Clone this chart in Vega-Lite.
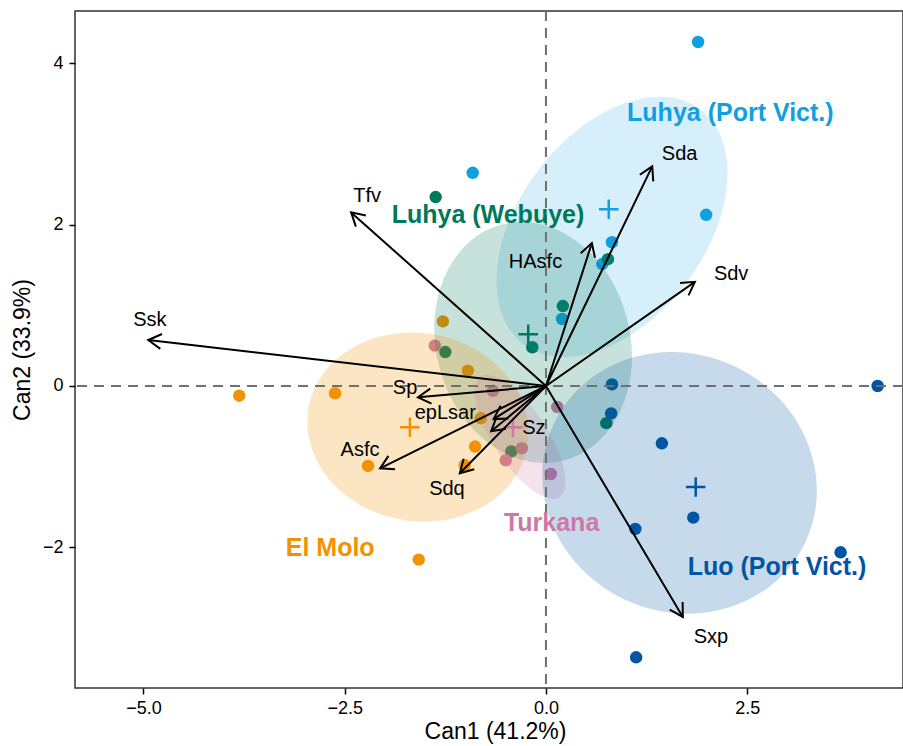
{
  "$schema": "https://vega.github.io/schema/vega-lite/v6.json",
  "width": 828,
  "height": 677,
  "autosize": {"type": "none"},
  "padding": {"left": 75, "top": 11, "right": 0, "bottom": 58},
  "background": "white",
  "datasets": {
    "points": [
      {"g": "Luhya (Port Vict.)", "x": 1.89, "y": 4.26},
      {"g": "Luhya (Port Vict.)", "x": -0.91, "y": 2.64},
      {"g": "Luhya (Port Vict.)", "x": 1.99, "y": 2.12},
      {"g": "Luhya (Port Vict.)", "x": 0.82, "y": 1.78},
      {"g": "Luhya (Port Vict.)", "x": 0.70, "y": 1.51},
      {"g": "Luhya (Port Vict.)", "x": 0.20, "y": 0.83},
      {"g": "Luhya (Webuye)", "x": -1.37, "y": 2.34},
      {"g": "Luhya (Webuye)", "x": 0.77, "y": 1.57},
      {"g": "Luhya (Webuye)", "x": 0.21, "y": 0.99},
      {"g": "Luhya (Webuye)", "x": -0.17, "y": 0.48},
      {"g": "Luhya (Webuye)", "x": -1.25, "y": 0.42},
      {"g": "Luhya (Webuye)", "x": 0.75, "y": -0.46},
      {"g": "Luhya (Webuye)", "x": -0.43, "y": -0.81},
      {"g": "El Molo", "x": -3.81, "y": -0.12},
      {"g": "El Molo", "x": -2.62, "y": -0.09},
      {"g": "El Molo", "x": -2.21, "y": -0.99},
      {"g": "El Molo", "x": -0.88, "y": -0.75},
      {"g": "El Molo", "x": -1.28, "y": 0.80},
      {"g": "El Molo", "x": -0.97, "y": 0.19},
      {"g": "El Molo", "x": -0.81, "y": -0.40},
      {"g": "El Molo", "x": -1.01, "y": -0.98},
      {"g": "El Molo", "x": -1.58, "y": -2.15},
      {"g": "Turkana", "x": -1.38, "y": 0.50},
      {"g": "Turkana", "x": -0.66, "y": -0.06},
      {"g": "Turkana", "x": 0.14, "y": -0.26},
      {"g": "Turkana", "x": -0.30, "y": -0.77},
      {"g": "Turkana", "x": -0.50, "y": -0.92},
      {"g": "Turkana", "x": 0.06, "y": -1.09},
      {"g": "Luo (Port Vict.)", "x": 4.12, "y": 0.0},
      {"g": "Luo (Port Vict.)", "x": 0.82, "y": 0.02},
      {"g": "Luo (Port Vict.)", "x": 0.81, "y": -0.34},
      {"g": "Luo (Port Vict.)", "x": 1.44, "y": -0.71},
      {"g": "Luo (Port Vict.)", "x": 1.83, "y": -1.63},
      {"g": "Luo (Port Vict.)", "x": 1.11, "y": -1.77},
      {"g": "Luo (Port Vict.)", "x": 3.66, "y": -2.06},
      {"g": "Luo (Port Vict.)", "x": 1.12, "y": -3.36}
    ],
    "means": [
      {"g": "Luhya (Port Vict.)", "x": 0.78, "y": 2.19},
      {"g": "Luhya (Webuye)", "x": -0.22, "y": 0.64},
      {"g": "El Molo", "x": -1.69, "y": -0.51},
      {"g": "Turkana", "x": -0.41, "y": -0.51},
      {"g": "Luo (Port Vict.)", "x": 1.86, "y": -1.25}
    ],
    "ellipses": [
      {"g": "Luhya (Port Vict.)", "x": 0.82, "y": 1.97},
      {"g": "Luhya (Webuye)", "x": -0.16, "y": 0.54},
      {"g": "El Molo", "x": -1.59, "y": -0.51},
      {"g": "Turkana", "x": -0.32, "y": -0.63},
      {"g": "Luo (Port Vict.)", "x": 1.66, "y": -1.20}
    ],
    "vectors": [
      {"v": "Ssk", "x": -4.94, "y": 0.57, "lx": -4.92, "ly": 0.82},
      {"v": "Tfv", "x": -2.42, "y": 2.15, "lx": -2.22, "ly": 2.35},
      {"v": "Sda", "x": 1.32, "y": 2.72, "lx": 1.66, "ly": 2.87},
      {"v": "HAsfc", "x": 0.57, "y": 1.77, "lx": -0.13, "ly": 1.54},
      {"v": "Sdv", "x": 1.85, "y": 1.29, "lx": 2.30, "ly": 1.39},
      {"v": "Sxp", "x": 1.70, "y": -2.86, "lx": 2.05, "ly": -3.11},
      {"v": "Sp", "x": -1.59, "y": -0.14, "lx": -1.75, "ly": -0.02},
      {"v": "epLsar", "x": -0.65, "y": -0.41, "lx": -1.25, "ly": -0.33},
      {"v": "Sz", "x": -0.68, "y": -0.56, "lx": -0.15, "ly": -0.52},
      {"v": "Asfc", "x": -2.06, "y": -1.02, "lx": -2.31, "ly": -0.79},
      {"v": "Sdq", "x": -1.07, "y": -1.08, "lx": -1.23, "ly": -1.28}
    ],
    "labels": [
      {"g": "Luhya (Port Vict.)", "x": 2.29, "y": 3.38},
      {"g": "Luhya (Webuye)", "x": -0.72, "y": 2.12},
      {"g": "El Molo", "x": -2.68, "y": -2.01},
      {"g": "Turkana", "x": 0.07, "y": -1.70},
      {"g": "Luo (Port Vict.)", "x": 2.87, "y": -2.24}
    ],
    "origin": [{"x": 0, "y": 0}]
  },
  "config": {
    "font": "Liberation Sans",
    "view": {"stroke": "#333333", "strokeWidth": 1.5},
    "axis": {
      "grid": false, "domain": false, "ticks": true, "tickColor": "#000000", "tickWidth": 1.5, "tickSize": 6,
      "labelColor": "#000000", "labelFontSize": 18, "labelFont": "Liberation Sans",
      "titleFont": "Liberation Sans", "titleFontSize": 23, "titleFontWeight": "normal", "titleColor": "#000000"
    }
  },
  "layer": [
    {
      "data": {"name": "points"},
      "mark": {"type": "point", "shape": "circle", "filled": true, "size": 155, "opacity": 1, "strokeWidth": 0},
      "encoding": {
        "x": {"field": "x", "type": "quantitative", "title": "Can1 (41.2%)", "scale": {"domain": [-5.85, 4.435], "nice": false, "zero": false}, "axis": {"values": [-5, -2.5, 0, 2.5], "format": ".1f", "labelPadding": 5, "titlePadding": 3, "titleX": 420}},
        "y": {"field": "y", "type": "quantitative", "title": "Can2 (33.9%)", "scale": {"domain": [-3.74, 4.644], "nice": false, "zero": false}, "axis": {"values": [-2, 0, 2, 4], "format": "d", "labelPadding": 6, "titlePadding": 8}},
        "color": {"field": "g", "type": "nominal", "legend": null, "scale": {"domain": ["Luhya (Port Vict.)", "Luhya (Webuye)", "El Molo", "Turkana", "Luo (Port Vict.)"], "range": ["#10A0E0", "#00785A", "#F39200", "#CC79A7", "#0056A4"]}}
      }
    },
    {
      "data": {"name": "ellipses"},
      "transform": [{"filter": "datum.g == 'Luhya (Port Vict.)'"}],
      "mark": {"type": "point", "shape": "M -1 0 C -1 -0.3494 -0.5523 -0.633 0 -0.633 C 0.5523 -0.633 1 -0.3494 1 0 C 1 0.3494 0.5523 0.633 0 0.633 C -0.5523 0.633 -1 0.3494 -1 0 Z", "size": 86436, "angle": 307, "filled": true, "opacity": 0.17, "strokeWidth": 0},
      "encoding": {
        "x": {"field": "x", "type": "quantitative", "title": "Can1 (41.2%)", "scale": {"domain": [-5.85, 4.435], "nice": false, "zero": false}},
        "y": {"field": "y", "type": "quantitative", "title": "Can2 (33.9%)", "scale": {"domain": [-3.74, 4.644], "nice": false, "zero": false}},
        "color": {"field": "g", "type": "nominal", "legend": null}
      }
    },
    {
      "data": {"name": "ellipses"},
      "transform": [{"filter": "datum.g == 'Luhya (Webuye)'"}],
      "mark": {"type": "point", "shape": "M -1 0 C -1 -0.4391 -0.5523 -0.795 0 -0.795 C 0.5523 -0.795 1 -0.4391 1 0 C 1 0.4391 0.5523 0.795 0 0.795 C -0.5523 0.795 -1 0.4391 -1 0 Z", "size": 59536, "angle": 75, "filled": true, "opacity": 0.22, "strokeWidth": 0},
      "encoding": {
        "x": {"field": "x", "type": "quantitative", "title": "Can1 (41.2%)", "scale": {"domain": [-5.85, 4.435], "nice": false, "zero": false}},
        "y": {"field": "y", "type": "quantitative", "title": "Can2 (33.9%)", "scale": {"domain": [-3.74, 4.644], "nice": false, "zero": false}},
        "color": {"field": "g", "type": "nominal", "legend": null}
      }
    },
    {
      "data": {"name": "ellipses"},
      "transform": [{"filter": "datum.g == 'El Molo'"}],
      "mark": {"type": "point", "shape": "M -1 0 C -1 -0.4677 -0.5523 -0.847 0 -0.847 C 0.5523 -0.847 1 -0.4677 1 0 C 1 0.4677 0.5523 0.847 0 0.847 C -0.5523 0.847 -1 0.4677 -1 0 Z", "size": 49284, "angle": 10, "filled": true, "opacity": 0.24, "strokeWidth": 0},
      "encoding": {
        "x": {"field": "x", "type": "quantitative", "title": "Can1 (41.2%)", "scale": {"domain": [-5.85, 4.435], "nice": false, "zero": false}},
        "y": {"field": "y", "type": "quantitative", "title": "Can2 (33.9%)", "scale": {"domain": [-3.74, 4.644], "nice": false, "zero": false}},
        "color": {"field": "g", "type": "nominal", "legend": null}
      }
    },
    {
      "data": {"name": "ellipses"},
      "transform": [{"filter": "datum.g == 'Turkana'"}],
      "mark": {"type": "point", "shape": "M -1 0 C -1 -0.2071 -0.5523 -0.375 0 -0.375 C 0.5523 -0.375 1 -0.2071 1 0 C 1 0.2071 0.5523 0.375 0 0.375 C -0.5523 0.375 -1 0.2071 -1 0 Z", "size": 20736, "angle": 57, "filled": true, "opacity": 0.22, "strokeWidth": 0},
      "encoding": {
        "x": {"field": "x", "type": "quantitative", "title": "Can1 (41.2%)", "scale": {"domain": [-5.85, 4.435], "nice": false, "zero": false}},
        "y": {"field": "y", "type": "quantitative", "title": "Can2 (33.9%)", "scale": {"domain": [-3.74, 4.644], "nice": false, "zero": false}},
        "color": {"field": "g", "type": "nominal", "legend": null}
      }
    },
    {
      "data": {"name": "ellipses"},
      "transform": [{"filter": "datum.g == 'Luo (Port Vict.)'"}],
      "mark": {"type": "point", "shape": "M -1 0 C -1 -0.5126 -0.5523 -0.928 0 -0.928 C 0.5523 -0.928 1 -0.5126 1 0 C 1 0.5126 0.5523 0.928 0 0.928 C -0.5523 0.928 -1 0.5126 -1 0 Z", "size": 77284, "angle": 25, "filled": true, "opacity": 0.22, "strokeWidth": 0},
      "encoding": {
        "x": {"field": "x", "type": "quantitative", "title": "Can1 (41.2%)", "scale": {"domain": [-5.85, 4.435], "nice": false, "zero": false}},
        "y": {"field": "y", "type": "quantitative", "title": "Can2 (33.9%)", "scale": {"domain": [-3.74, 4.644], "nice": false, "zero": false}},
        "color": {"field": "g", "type": "nominal", "legend": null}
      }
    },
    {
      "data": {"name": "origin"},
      "mark": {"type": "rule", "color": "#707070", "strokeWidth": 2, "strokeDash": [10, 7]},
      "encoding": {
        "x": {"field": "x", "type": "quantitative", "title": "Can1 (41.2%)", "scale": {"domain": [-5.85, 4.435], "nice": false, "zero": false}}
      }
    },
    {
      "data": {"name": "origin"},
      "mark": {"type": "rule", "color": "#707070", "strokeWidth": 2, "strokeDash": [10, 7]},
      "encoding": {
        "y": {"field": "y", "type": "quantitative", "title": "Can2 (33.9%)", "scale": {"domain": [-3.74, 4.644], "nice": false, "zero": false}}
      }
    },
    {
      "data": {"name": "means"},
      "mark": {"type": "point", "shape": "M -1 0 L 1 0 M 0 -1 L 0 1", "size": 380, "filled": false, "opacity": 1, "strokeWidth": 2.5},
      "encoding": {
        "x": {"field": "x", "type": "quantitative", "title": "Can1 (41.2%)", "scale": {"domain": [-5.85, 4.435], "nice": false, "zero": false}},
        "y": {"field": "y", "type": "quantitative", "title": "Can2 (33.9%)", "scale": {"domain": [-3.74, 4.644], "nice": false, "zero": false}},
        "color": {"field": "g", "type": "nominal", "legend": null}
      }
    },
    {
      "data": {"name": "vectors"},
      "mark": {"type": "rule", "color": "#000000", "strokeWidth": 2},
      "encoding": {
        "x": {"field": "x", "type": "quantitative", "title": "Can1 (41.2%)", "scale": {"domain": [-5.85, 4.435], "nice": false, "zero": false}},
        "y": {"field": "y", "type": "quantitative", "title": "Can2 (33.9%)", "scale": {"domain": [-3.74, 4.644], "nice": false, "zero": false}},
        "x2": {"datum": 0},
        "y2": {"datum": 0}
      }
    },
    {
      "data": {"name": "vectors"},
      "transform": [{"calculate": "atan2(datum.x, datum.y) * 180 / PI", "as": "ang"}],
      "mark": {"type": "point", "shape": "M -0.5 0.866 L 0 0 L 0.5 0.866", "size": 900, "filled": false, "color": "#000000", "opacity": 1, "strokeWidth": 2},
      "encoding": {
        "x": {"field": "x", "type": "quantitative", "title": "Can1 (41.2%)", "scale": {"domain": [-5.85, 4.435], "nice": false, "zero": false}},
        "y": {"field": "y", "type": "quantitative", "title": "Can2 (33.9%)", "scale": {"domain": [-3.74, 4.644], "nice": false, "zero": false}},
        "angle": {"field": "ang", "type": "quantitative", "scale": null}
      }
    },
    {
      "data": {"name": "vectors"},
      "mark": {"type": "text", "fontSize": 20, "font": "Liberation Sans", "color": "#000000", "align": "center", "baseline": "middle"},
      "encoding": {
        "x": {"field": "lx", "type": "quantitative", "title": "Can1 (41.2%)", "scale": {"domain": [-5.85, 4.435], "nice": false, "zero": false}},
        "y": {"field": "ly", "type": "quantitative", "title": "Can2 (33.9%)", "scale": {"domain": [-3.74, 4.644], "nice": false, "zero": false}},
        "text": {"field": "v"}
      }
    },
    {
      "data": {"name": "labels"},
      "mark": {"type": "text", "fontSize": 25, "fontWeight": "bold", "font": "Liberation Sans", "align": "center", "baseline": "middle"},
      "encoding": {
        "x": {"field": "x", "type": "quantitative", "title": "Can1 (41.2%)", "scale": {"domain": [-5.85, 4.435], "nice": false, "zero": false}},
        "y": {"field": "y", "type": "quantitative", "title": "Can2 (33.9%)", "scale": {"domain": [-3.74, 4.644], "nice": false, "zero": false}},
        "color": {"field": "g", "type": "nominal", "legend": null},
        "text": {"field": "g"}
      }
    }
  ]
}
